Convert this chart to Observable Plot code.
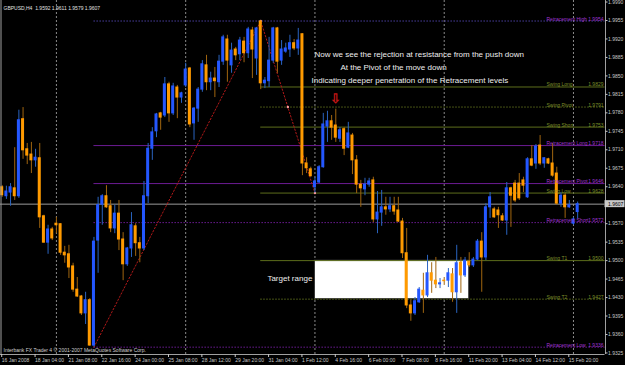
<!DOCTYPE html>
<html><head><meta charset="utf-8">
<script src="https://cdn.jsdelivr.net/npm/d3@7"></script>
<script src="https://cdn.jsdelivr.net/npm/@observablehq/plot@0.6"></script>
<style>
html,body{margin:0;padding:0;background:#000;}
#chart{width:625px;height:365px;overflow:hidden;}
svg{display:block}
</style></head><body><div id="chart"></div>
<script>
// ---- Data (GBPUSD H4) ----
const barOpen = [1.9639,1.9622,1.9629,1.9637,1.9622,1.9768,1.9711,1.9701,1.9690,1.9694,
1.9584,1.9534,1.9559,1.9570,1.9569,1.9515,1.9512,1.9489,1.9445,1.9432,
1.9400,1.9425,1.9339,1.9538,1.9606,1.9622,1.9603,1.9561,1.9589,1.9540,
1.9493,1.9523,1.9565,1.9533,1.9523,1.9622,1.9712,1.9745,1.9779,1.9775,
1.9834,1.9779,1.9828,1.9809,1.9832,1.9864,1.9760,1.9788,1.9824,1.9870,
1.9838,1.9845,1.9838,1.9877,1.9919,1.9870,1.9900,1.9891,1.9915,1.9893,
1.9936,1.9883,1.9953,1.9836,1.9840,1.9879,1.9940,1.9879,1.9896,1.9900,
1.9912,1.9902,1.9929,1.9684,1.9673,1.9639,1.9648,1.9677,1.9754,1.9764,
1.9756,1.9731,1.9749,1.9714,1.9737,1.9690,1.9644,1.9635,1.9644,1.9652,
1.9578,1.9591,1.9601,1.9597,1.9603,1.9595,1.9574,1.9514,1.9415,1.9400,
1.9421,1.9443,1.9434,1.9476,1.9462,1.9455,1.9462,1.9462,1.9474,1.9440,
1.9496,1.9472,1.9498,1.9491,1.9502,1.9536,1.9506,1.9601,1.9597,1.9595,
1.9584,1.9576,1.9637,1.9646,1.9646,1.9652,1.9620,1.9692,1.9684,1.9718,
1.9684,1.9692,1.9684,1.9665,1.9608,1.9623,1.9601,1.9570,1.9592];
const barHigh = [1.9642,1.9641,1.9646,1.9714,1.9785,1.9790,1.9722,1.9724,1.9711,1.9722,
1.9586,1.9567,1.9563,1.9582,1.9570,1.9527,1.9529,1.9495,1.9468,1.9434,
1.9440,1.9428,1.9544,1.9620,1.9625,1.9642,1.9614,1.9605,1.9614,1.9553,
1.9525,1.9591,1.9570,1.9544,1.9650,1.9722,1.9752,1.9779,1.9781,1.9847,
1.9838,1.9836,1.9832,1.9819,1.9874,1.9866,1.9790,1.9828,1.9879,1.9889,
1.9857,1.9866,1.9889,1.9927,1.9927,1.9912,1.9904,1.9923,1.9923,1.9942,
1.9942,1.9942,1.9954,1.9847,1.9923,1.9942,1.9942,1.9917,1.9912,1.9927,
1.9919,1.9940,1.9930,1.9695,1.9677,1.9658,1.9680,1.9779,1.9783,1.9775,
1.9787,1.9752,1.9752,1.9762,1.9741,1.9699,1.9652,1.9656,1.9656,1.9658,
1.9631,1.9633,1.9620,1.9620,1.9620,1.9620,1.9580,1.9561,1.9425,1.9430,
1.9449,1.9476,1.9510,1.9496,1.9506,1.9466,1.9468,1.9485,1.9485,1.9529,
1.9506,1.9506,1.9515,1.9506,1.9540,1.9553,1.9608,1.9629,1.9601,1.9601,
1.9589,1.9648,1.9639,1.9652,1.9665,1.9658,1.9695,1.9718,1.9720,1.9737,
1.9695,1.9694,1.9722,1.9677,1.9629,1.9627,1.9614,1.9582,1.9611];
const barLow = [1.9620,1.9616,1.9603,1.9614,1.9618,1.9692,1.9682,1.9665,1.9677,1.9561,
1.9533,1.9512,1.9538,1.9551,1.9510,1.9495,1.9466,1.9440,1.9430,1.9396,
1.9379,1.9338,1.9336,1.9476,1.9567,1.9599,1.9553,1.9551,1.9519,1.9462,
1.9489,1.9506,1.9508,1.9496,1.9519,1.9608,1.9690,1.9733,1.9747,1.9771,
1.9762,1.9775,1.9769,1.9798,1.9828,1.9752,1.9728,1.9762,1.9819,1.9822,
1.9822,1.9809,1.9828,1.9870,1.9838,1.9855,1.9879,1.9879,1.9875,1.9883,
1.9845,1.9851,1.9824,1.9826,1.9828,1.9874,1.9855,1.9870,1.9893,1.9885,
1.9898,1.9889,1.9661,1.9665,1.9658,1.9628,1.9646,1.9675,1.9724,1.9728,
1.9724,1.9724,1.9699,1.9712,1.9663,1.9627,1.9601,1.9623,1.9639,1.9572,
1.9551,1.9565,1.9586,1.9591,1.9586,1.9572,1.9504,1.9409,1.9385,1.9396,
1.9419,1.9400,1.9430,1.9438,1.9447,1.9447,1.9453,1.9449,1.9421,1.9400,
1.9438,1.9468,1.9487,1.9487,1.9500,1.9440,1.9500,1.9580,1.9580,1.9561,
1.9574,1.9548,1.9563,1.9610,1.9614,1.9629,1.9618,1.9678,1.9673,1.9680,
1.9675,1.9682,1.9658,1.9605,1.9601,1.9580,1.9599,1.9567,1.9579];
const barClose = [1.9624,1.9631,1.9639,1.9622,1.9766,1.9709,1.9699,1.9690,1.9695,1.9582,
1.9534,1.9559,1.9542,1.9567,1.9515,1.9510,1.9487,1.9445,1.9432,1.9400,
1.9425,1.9339,1.9536,1.9605,1.9622,1.9601,1.9561,1.9589,1.9540,1.9493,
1.9523,1.9567,1.9533,1.9523,1.9622,1.9712,1.9743,1.9777,1.9771,1.9834,
1.9779,1.9830,1.9809,1.9817,1.9862,1.9758,1.9788,1.9824,1.9872,1.9838,
1.9845,1.9840,1.9877,1.9923,1.9879,1.9898,1.9889,1.9917,1.9893,1.9938,
1.9900,1.9940,1.9836,1.9841,1.9879,1.9940,1.9877,1.9900,1.9902,1.9912,
1.9902,1.9917,1.9684,1.9675,1.9660,1.9650,1.9677,1.9758,1.9764,1.9752,
1.9733,1.9747,1.9712,1.9741,1.9690,1.9644,1.9637,1.9644,1.9650,1.9578,
1.9591,1.9601,1.9597,1.9603,1.9593,1.9574,1.9514,1.9415,1.9400,1.9423,
1.9445,1.9434,1.9476,1.9462,1.9455,1.9457,1.9461,1.9476,1.9440,1.9495,
1.9472,1.9500,1.9491,1.9502,1.9536,1.9506,1.9601,1.9620,1.9582,1.9586,
1.9576,1.9637,1.9623,1.9614,1.9618,1.9642,1.9692,1.9680,1.9716,1.9684,
1.9694,1.9684,1.9661,1.9608,1.9623,1.9601,1.9605,1.9578,1.9607];

const xTickBars = [0,8,16,24,32,40,48,56,64,72,80,88,96,104,112,120,128,136];
const xTickLabels = ["16 Jan 2008","18 Jan 04:00","21 Jan 08:00","22 Jan 16:00","24 Jan 00:00","25 Jan 08:00",
"28 Jan 12:00","29 Jan 20:00","31 Jan 04:00","1 Feb 12:00","4 Feb 16:00","6 Feb 00:00",
"7 Feb 08:00","8 Feb 16:00","11 Feb 20:00","13 Feb 04:00","14 Feb 12:00","15 Feb 20:00"];
const yTicks = [1.9990,1.9955,1.9920,1.9885,1.9850,1.9815,1.9780,1.9745,1.9710,1.9675,1.9640,1.9605,
1.9570,1.9535,1.9500,1.9465,1.9430,1.9395,1.9360,1.9325];
const gridBars = [13,44,75,106,137];

const levelNames = ["Retracement High","Swing Long","Swing Pivot","Swing Short","Retracement Long",
"Retracement Pivot","Swing Low","Retracement Short","Swing T1","Swing T2","Retracement Low"];
const levelValues = [1.9954,1.9829,1.9791,1.9753,1.9718,1.9646,1.9628,1.9572,1.9500,1.9427,1.9336];
const levelStartBars = [22,62,62,62,22,22,62,22,62,62,22];

const zigzagBars = [22,62,68.5,75];
const zigzagPrices = [1.9336,1.9954,1.9791,1.9628];

const noteTexts = ["Now we see the rejection at resistance from the push down",
"At the Pivot of the move down","Indicating deeper penetration of the Retracement levels"];
const noteBars = [74.9,81.1,74.2];
const notePrices = [1.9891,1.9866,1.9841];

const targetLabel = "Target range";
const targetLabelBar = 63.6, targetLabelPrice = 1.9466;
const targetFromBar = 75, targetToBar = 112;

const arrowBar = 80, arrowPrice = 1.9807;
const symbolTitle = "GBPUSD,H4";
const copyright = "Interbank FX Trader 4 \u00a9 2001-2007 MetaQuotes Software Corp.";

// ---- Build ----
const candles = barOpen.map((o,i)=>({i, open:o, high:barHigh[i], low:barLow[i], close:barClose[i], up: barClose[i] >= o}));
const levels = levelNames.map((n,k)=>({name:n, value:levelValues[k], from:levelStartBars[k],
  retr: n.startsWith("Retracement")}));
const dottedNames = new Set(["Retracement High","Swing Pivot","Retracement Short","Swing T2","Retracement Low"]);
const zigzag = zigzagBars.map((b,k)=>({bar:b, price:zigzagPrices[k]}));
const notes = noteTexts.map((t,k)=>({text:t, bar:noteBars[k], price:notePrices[k]}));
const last = candles[candles.length-1];
const titleText = `${symbolTitle}  ${last.open.toFixed(4)} ${last.high.toFixed(4)} ${last.low.toFixed(4)} ${last.close.toFixed(4)}`;

const X_DOMAIN = [-0.41, 144.56];
const Y_DOMAIN = [1.93221, 1.99929];
const pxPerBar = 604.5 / (X_DOMAIN[1]-X_DOMAIN[0]);
const pxPerPrice = 354 / (Y_DOMAIN[1]-Y_DOMAIN[0]);

const BULL = "#2457ff", BEAR = "#ff9a00", BULLW = "#2a64c0", BEARW = "#a0650f";
const PURPLE = "#6b1b93", OLIVE = "#5d6d1c";
const PURPLE_T = "#a035d0", OLIVE_T = "#7d8f2a";
const AXIS = "#a0a0a0";

const plot = Plot.plot({
  width: 625, height: 365,
  marginTop: 0, marginLeft: 0, marginRight: 20.5, marginBottom: 11,
  style: {background: "#000", fontFamily: "'Liberation Sans', Arial, sans-serif", overflow: "visible"},
  x: {domain: X_DOMAIN, axis: null},
  y: {domain: Y_DOMAIN, axis: null},
  color: {type: "identity"},
  marks: [
    Plot.ruleX(gridBars, {x: d=>d, stroke: "#8a8a8a", strokeDasharray: "2,2", strokeWidth: 1}),
    // target box
    Plot.rect([{}], {x1: ()=>targetFromBar, x2: ()=>targetToBar,
      y1: ()=>levelValues[levelNames.indexOf("Swing T2")], y2: ()=>levelValues[levelNames.indexOf("Swing T1")],
      fill: "#ffffff", stroke: "#333"}),
    // levels
    Plot.ruleY(levels.filter(d=>!dottedNames.has(d.name)), {y: "value", x1: "from", x2: ()=>X_DOMAIN[1],
      stroke: d=>d.retr ? PURPLE : OLIVE, strokeWidth: 1}),
    Plot.ruleY(levels.filter(d=>dottedNames.has(d.name)), {y: "value", x1: "from", x2: ()=>X_DOMAIN[1],
      stroke: d=>d.name==="Retracement High" ? "#4a3fa0" : (d.retr ? PURPLE : OLIVE), strokeWidth: 1, strokeDasharray: "1.5,1.5"}),
    // current price
    Plot.ruleY([last.close], {y: d=>d, stroke: "#9a9a9a", strokeWidth: 1}),
    // zigzag
    Plot.line(zigzag, {x: "bar", y: "price", stroke: "#b01818", strokeWidth: 1, strokeDasharray: "1.5,2"}),
    Plot.dot(zigzag.slice(1), {x: "bar", y: "price", r: 1.2, fill: "#ff9a9a", stroke: "none"}),
    // candles
    Plot.ruleX(candles, {x: "i", y1: "low", y2: "high", stroke: d=>d.up ? BULLW : BEARW, strokeWidth: 1}),
    Plot.rect(candles, {x1: d=>d.i-0.36, x2: d=>d.i+0.36, y1: "open", y2: "close",
      fill: d=>d.up ? BULL : BEAR, insetTop: -0.5, insetBottom: -0.5}),
    // level labels
    Plot.text(levels, {y: "value", text: "name", frameAnchor: "right", dx: -58.5, dy: -0.5, textAnchor: "start",
      lineAnchor: "bottom", fill: d=>d.retr ? PURPLE_T : OLIVE_T, fontSize: 5}),
    Plot.text(levels, {y: "value", text: d=>d.value.toFixed(4), frameAnchor: "right", dx: -1.5, dy: -0.5, textAnchor: "end",
      lineAnchor: "bottom", fill: d=>d.retr ? PURPLE_T : OLIVE_T, fontSize: 5}),
    // notes
    Plot.text(notes, {x: "bar", y: "price", text: "text", textAnchor: "start", fill: "#eeeeee", fontSize: 8}),
    Plot.text([targetLabel], {x: ()=>targetLabelBar, y: ()=>targetLabelPrice, text: d=>d, textAnchor: "start", fill: "#eeeeee", fontSize: 8}),
    Plot.text(["\u21e9"], {x: ()=>arrowBar, y: ()=>arrowPrice, text: d=>d, fill: "#c01515", fontSize: 13, fontWeight: "bold"}),
    // axis lines (left, right, bottom)
    Plot.ruleX([X_DOMAIN[0], X_DOMAIN[1]], {x: d=>d, stroke: AXIS, strokeWidth: 1, dx: 0.5}),
    Plot.ruleY([Y_DOMAIN[0]], {y: d=>d, stroke: AXIS, strokeWidth: 1, x1: ()=>X_DOMAIN[0], x2: ()=>X_DOMAIN[1]}),
    Plot.axisX({ticks: xTickBars, tickFormat: d=>xTickLabels[xTickBars.indexOf(d)], tickSize: 3, tickPadding: 1,
      textAnchor: "start", dx: -0.5, fontSize: 5, color: "#c8c8c8", anchor: "bottom"}),
    Plot.axisY({anchor: "right", ticks: yTicks, tickFormat: d=>d.toFixed(4), tickSize: 2, tickPadding: 1,
      fontSize: 5, color: "#c8c8c8", textAnchor: "start"}),
    // current price label box
    Plot.rect([last.close], {x1: ()=>X_DOMAIN[1], x2: ()=>X_DOMAIN[1] + 20/pxPerBar,
      y1: d=>d - 3.5/pxPerPrice, y2: d=>d + 3.5/pxPerPrice, fill: "#c8c8c8"}),
    Plot.text([last.close], {y: d=>d, text: d=>d.toFixed(4), frameAnchor: "right", dx: 3, textAnchor: "start", fill: "#000", fontSize: 5}),
    // title & copyright
    Plot.text([titleText], {text: d=>d, frameAnchor: "top-left", dx: 3, dy: 6, textAnchor: "start", fill: "#e0e0e0", fontSize: 5}),
    Plot.text([copyright], {text: d=>d, frameAnchor: "bottom-left", dx: 3, dy: -3, textAnchor: "start", fill: "#d0d0d0", fontSize: 5})
  ]
});
document.getElementById("chart").appendChild(plot);
</script>
</body></html>
